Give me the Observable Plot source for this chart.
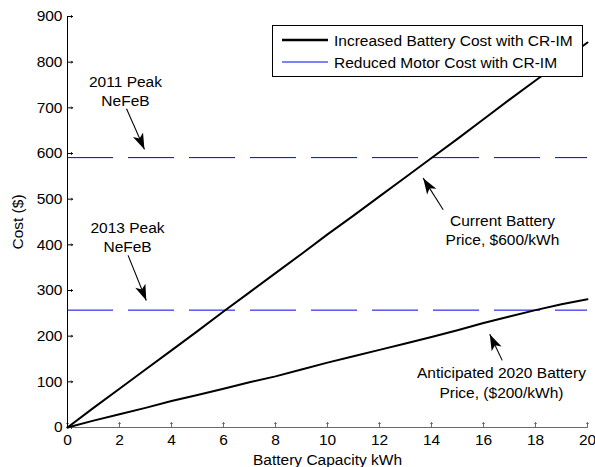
<!DOCTYPE html>
<html>
<head>
<meta charset="utf-8">
<script src="https://cdn.jsdelivr.net/npm/d3@7"></script>
<script src="https://cdn.jsdelivr.net/npm/@observablehq/plot@0.6"></script>
<style>
  html, body { margin: 0; padding: 0; background: #fff; }
  #chart svg { display: block; }
</style>
</head>
<body>
<div id="chart"></div>
<script>
// Battery capacity (kWh) and the two cost curves ($)
const capacity = [0, 1, 2, 3, 4, 5, 6, 7, 8, 9, 10, 11, 12, 13, 14, 15, 16, 17, 18, 19, 20];
const batteryCost600 = [0, 43, 85, 127, 169, 211, 254, 296, 338, 380, 423, 464, 506, 548, 590, 632, 675, 718, 760, 801, 843];
const batteryCost200 = [0, 15, 29, 43, 58, 71, 85, 99, 112, 127, 142, 156, 170, 184, 198, 213, 229, 243, 257, 270, 281];

// Reduced motor cost at peak NeFeB magnet prices ($)
const peakYears = ["2011 Peak\nNeFeB", "2013 Peak\nNeFeB"];
const peakCosts = [591, 257];

const seriesNames = ["Increased Battery Cost with CR-IM", "Reduced Motor Cost with CR-IM"];
const xTicks = d3.range(0, 21, 2);
const yTicks = d3.range(0, 901, 100);

// Callouts: label centre and arrow tail/head, in data units
const notes = [
  {text: peakYears[0], x: 2.23, y: 739, x1: 2.27, y1: 698, x2: 2.96, y2: 609},
  {text: peakYears[1], x: 2.31, y: 419, x1: 2.33, y1: 377, x2: 3.03, y2: 278},
  {text: "Current Battery\nPrice, $600/kWh", x: 16.73, y: 434, x1: 14.45, y1: 477, x2: 13.68, y2: 546},
  {text: "Anticipated 2020 Battery\nPrice, ($200/kWh)", x: 16.69, y: 100, x1: 16.72, y1: 147, x2: 16.24, y2: 204}
];

const W = 595, H = 467;
const margin = {top: 16, right: 8, bottom: 40, left: 67};
const font = "'Liberation Sans', Arial, Helvetica, sans-serif";
const fs = 15.5;

const curves = capacity.flatMap((c, i) => [
  {kwh: c, cost: batteryCost600[i], series: "600"},
  {kwh: c, cost: batteryCost200[i], series: "200"}
]);

// Pixel mapping used to orient the arrowheads
const px = d3.scaleLinear([0, 20], [margin.left, W - margin.right]);
const py = d3.scaleLinear([0, 900], [H - margin.bottom, margin.top]);
const headAngle = d => {
  const dx = px(d.x2) - px(d.x1), dy = py(d.y2) - py(d.y1);
  return Math.atan2(dx, -dy) * 180 / Math.PI;
};

// Filled dart-shaped arrowhead with its tip at the origin, pointing up
const dart = {
  draw(context) {
    context.moveTo(0, 0);
    context.lineTo(-5.5, 16);
    context.lineTo(0, 12);
    context.lineTo(5.5, 16);
    context.closePath();
  }
};

const chart = Plot.plot({
  width: W,
  height: H,
  marginTop: margin.top,
  marginRight: margin.right,
  marginBottom: margin.bottom,
  marginLeft: margin.left,
  style: {fontFamily: font, fontSize: `${fs}px`, color: "black", background: "white"},
  x: {domain: [0, 20]},
  y: {domain: [0, 900]},
  marks: [
    Plot.axisX({ticks: xTicks, tickSize: 0, tickPadding: 6, label: null, fontSize: fs}),
    Plot.axisY({ticks: yTicks, tickSize: 0, tickPadding: 5, label: null, fontSize: fs}),
    // inward-pointing tick marks
    Plot.vector(xTicks, {x: d => d, y: 0, rotate: 0, length: 5, anchor: "start", stroke: "#6a6a6a", strokeWidth: 1}),
    Plot.vector(yTicks, {x: 0, y: d => d, rotate: 90, length: 5, anchor: "start", stroke: "black", strokeWidth: 1}),
    Plot.ruleY([0], {stroke: "#6a6a6a", strokeWidth: 1}),
    Plot.ruleX([0], {y1: 0, y2: 900, stroke: "black", strokeWidth: 1}),
    // peak NeFeB motor savings
    Plot.ruleY(peakCosts, {stroke: "#0000ee", strokeWidth: 1, strokeDasharray: "46,15"}),
    // battery cost curves
    Plot.line(curves, {x: "kwh", y: "cost", z: "series", stroke: "black", strokeWidth: 2}),
    // callouts
    Plot.link(notes, {x1: "x1", y1: "y1", x2: "x2", y2: "y2", stroke: "black", strokeWidth: 1.1}),
    Plot.dot(notes, {x: "x2", y: "y2", symbol: dart, rotate: headAngle, fill: "black", stroke: null, r: 6}),
    Plot.text(notes, {x: "x", y: "y", text: "text", lineAnchor: "middle", lineHeight: 1.24, fontSize: fs, fill: "black"}),
    // axis titles
    Plot.text(["Battery Capacity kWh"], {frameAnchor: "bottom", dy: 33, lineAnchor: "middle", fontSize: fs, fill: "black"}),
    Plot.text(["Cost ($)"], {frameAnchor: "left", dx: -49, rotate: -90, textAnchor: "middle", lineAnchor: "middle", fontSize: fs, fill: "black"})
  ]
});

document.getElementById("chart").appendChild(chart);

// Legend box in the upper right of the plot area
const legend = d3.select(chart).append("g")
  .attr("font-family", font)
  .attr("font-size", fs)
  .attr("text-anchor", "start");
legend.append("rect")
  .attr("x", 272.5).attr("y", 25.5)
  .attr("width", 310).attr("height", 51)
  .attr("fill", "white").attr("stroke", "black").attr("stroke-width", 1);
const legendRows = [
  {name: seriesNames[0], color: "black", width: 2.5, y: 40},
  {name: seriesNames[1], color: "#0000ee", width: 1, y: 62}
];
legendRows.forEach(r => {
  legend.append("line")
    .attr("x1", 282).attr("x2", 328)
    .attr("y1", r.y).attr("y2", r.y)
    .attr("stroke", r.color).attr("stroke-width", r.width);
  legend.append("text")
    .attr("x", 334).attr("y", r.y).attr("dy", "0.36em")
    .attr("text-anchor", "start")
    .attr("fill", "black")
    .text(r.name);
});
</script>
</body>
</html>
